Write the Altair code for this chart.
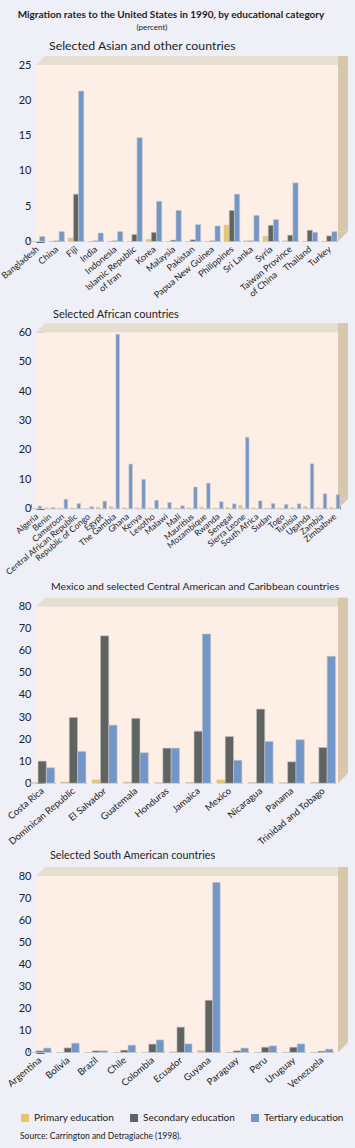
import altair as alt
import pandas as pd

levels = ["Primary education", "Secondary education", "Tertiary education"]
level_colors = ["#EBC56B", "#5F6462", "#7396C9"]

asia_countries = ["Bangladesh", "China", "Fiji", "India", "Indonesia", "Islamic Republic|of Iran",
                  "Korea", "Malaysia", "Pakistan", "Papua New Guinea", "Philippines", "Sri Lanka",
                  "Syria", "Taiwan Province|of China", "Thailand", "Turkey"]
asia_primary = [0, 0, 0.5, 0, 0, 0, 0.3, 0, 0, 0, 2.3, 0.1, 0.7, 0.1, 0, 0]
asia_secondary = [0, 0.1, 6.7, 0.1, 0.1, 1.0, 1.3, 0.2, 0.25, 0.1, 4.4, 0.1, 2.3, 0.9, 1.6, 0.8]
asia_tertiary = [0.7, 1.4, 21.3, 1.2, 1.4, 14.7, 5.7, 4.4, 2.4, 2.2, 6.7, 3.7, 3.1, 8.3, 1.3, 1.4]

africa_countries = ["Algeria", "Benin", "Cameroon", "Central African Republic", "Republic of Congo",
                    "Egypt", "The Gambia", "Ghana", "Kenya", "Lesotho", "Malawi", "Mali", "Mauritius",
                    "Mozambique", "Rwanda", "Senegal", "Sierra Leone", "South Africa", "Sudan", "Togo",
                    "Tunisia", "Uganda", "Zambia", "Zimbabwe"]
africa_primary = [0.2, 0.3, 0.2, 0.2, 0.1, 0.5, 0.8, 0.3, 0.3, 0.2, 0.2, 0.2, 0.3,
                  0.5, 0.2, 0.4, 1.2, 0.3, 0.2, 0.2, 0.4, 0.8, 0.3, 0.4]
africa_secondary = [0] * 24
africa_tertiary = [0.9, 0.4, 3.2, 1.8, 0.7, 2.6, 59.3, 15.2, 10.0, 2.9, 2.1, 1.0, 7.4,
                   8.7, 2.4, 1.7, 24.3, 2.7, 1.8, 1.5, 1.7, 15.3, 5.1, 4.8]

cam_countries = ["Costa Rica", "Dominican Republic", "El Salvador", "Guatemala", "Honduras",
                 "Jamaica", "Mexico", "Nicaragua", "Panama", "Trinidad and Tobago"]
cam_primary = [0.2, 0.5, 1.5, 0.5, 0.2, 0.3, 1.5, 0.3, 0.2, 0.4]
cam_secondary = [10.0, 29.8, 66.8, 29.4, 15.9, 23.6, 21.2, 33.6, 9.7, 16.2]
cam_tertiary = [7.0, 14.4, 26.3, 13.8, 15.9, 67.6, 10.4, 18.9, 19.7, 57.5]

sam_countries = ["Argentina", "Bolivia", "Brazil", "Chile", "Colombia", "Ecuador", "Guyana",
                 "Paraguay", "Peru", "Uruguay", "Venezuela"]
sam_primary = [0, 0, 0, 0, 0, 0.3, 0.9, 0, 0, 0, 0]
sam_secondary = [0.75, 2.1, 0.75, 1.05, 3.8, 11.5, 23.7, 0.75, 2.4, 2.4, 0.6]
sam_tertiary = [2.0, 4.2, 0.75, 3.3, 5.7, 3.9, 77.1, 2.0, 3.0, 3.9, 1.5]

main_title = ["Migration rates to the United States in 1990, by educational category"]
main_subtitle = ["(percent)"]
panel_titles = ["Selected Asian and other countries", "Selected African countries",
                "Mexico and selected Central American and Caribbean countries",
                "Selected South American countries"]
source_note = "Source: Carrington and Detragiache (1998)."

FONT = "Lato"
BG = "#EEEFF7"
PLOT_BG = "#FDEFE6"
TOP_FACE = "#E6DFD0"
SIDE_FACE = "#D7C7AB"
W = 302
PH = 176.5                       # height of each plot box
TOTAL_H = 987.5                  # from first plot top to last plot bottom
PANEL_TOPS = [0, 267.3, 541.7, 811]
PAD = {"left": 36, "top": 65, "right": 17, "bottom": 95.5}

# second line of two-line labels is pushed back with blank (non-trimmed) characters
BLANK = "\u2800\u2800\u2800\u2800"
LABEL_EXPR = ("indexof(datum.label, '|') > 0 ? [split(datum.label, '|')[0], "
              "split(datum.label, '|')[1] + '" + BLANK + "'] : datum.label")

one = pd.DataFrame({"k": [0]})


def long_df(countries, prim, sec, ter):
    rows = []
    for c, p, s, t in zip(countries, prim, sec, ter):
        rows.append({"country": c, "level": levels[0], "value": p})
        rows.append({"country": c, "level": levels[1], "value": s})
        rows.append({"country": c, "level": levels[2], "value": t})
    return pd.DataFrame(rows)


def text_layer(txt, x, y, size, align="left", weight="normal"):
    return alt.Chart(pd.DataFrame({"t": [txt]})).mark_text(
        font=FONT, fontSize=size, color="#1E1E1E", align=align, baseline="alphabetic",
        fontWeight=weight
    ).encode(text="t:N", x=alt.value(x), y=alt.value(y))


def box_layers(top_y):
    back = alt.Chart(one).mark_rect(color=PLOT_BG).encode(
        x=alt.value(0), x2=alt.value(W), y=alt.value(top_y), y2=alt.value(top_y + PH))
    top = alt.Chart(one).mark_rect(color=TOP_FACE).encode(
        x=alt.value(9), x2=alt.value(W + 10), y=alt.value(top_y - 9), y2=alt.value(top_y))
    top_corner = alt.Chart(one).mark_point(
        shape="M-1,1 L1,-1 L1,1 Z", size=81, filled=True, color=TOP_FACE, opacity=1,
        strokeWidth=0
    ).encode(x=alt.value(4.5), y=alt.value(top_y - 4.5))
    side = alt.Chart(one).mark_rect(color=SIDE_FACE).encode(
        x=alt.value(W), x2=alt.value(W + 10), y=alt.value(top_y - 9),
        y2=alt.value(top_y + PH - 10))
    side_corner = alt.Chart(one).mark_point(
        shape="M-1,-1 L1,-1 L-1,1 Z", size=100, filled=True, color=SIDE_FACE, opacity=1,
        strokeWidth=0
    ).encode(x=alt.value(W + 5), y=alt.value(top_y + PH - 5))
    return [back, top, top_corner, side, side_corner]


def bars_layer(countries, prim, sec, ter, ymax, step, top_y, x_range, label_size):
    df = long_df(countries, prim, sec, ter)
    bottom = top_y + PH
    return alt.Chart(df).mark_bar(stroke="#C4C4C4", strokeWidth=0.6).encode(
        x=alt.X("country:N", sort=countries,
                scale=alt.Scale(range=x_range, paddingInner=0.2, paddingOuter=0.1),
                axis=alt.Axis(orient="bottom", title=None, domain=False, tickBand="extent",
                              tickSize=5, offset=-(TOTAL_H - bottom) - 5, tickColor="#8A8A8A",
                              labelAngle=-40, labelAlign="right", labelBaseline="middle",
                              labelPadding=6, labelFontSize=label_size, labelFont=FONT,
                              labelColor="#222222", labelExpr=LABEL_EXPR, labelOverlap=False,
                              labelLineHeight=10)),
        xOffset=alt.XOffset("level:N", sort=levels),
        y=alt.Y("value:Q", scale=alt.Scale(domain=[0, ymax], nice=False, range=[bottom, top_y]),
                axis=alt.Axis(orient="left", title=None, values=list(range(0, ymax + 1, step)),
                              grid=False, domain=False, tickSize=8, offset=-8,
                              tickColor="#666666", labelPadding=5, labelFontSize=11,
                              labelFont=FONT, labelColor="#222222")),
        color=alt.Color("level:N", sort=levels,
                        scale=alt.Scale(domain=levels, range=level_colors),
                        title=source_note,
                        legend=alt.Legend(orient="none", legendX=-16, legendY=1048,
                                          direction="horizontal")),
    )


deco = []
for t in PANEL_TOPS:
    deco += box_layers(t)

deco.append(text_layer(main_title[0], 135, -47, 10, align="center", weight="bold"))
deco.append(text_layer(main_subtitle[0], 116, -35, 8, align="center"))
deco.append(text_layer(panel_titles[0], 13, PANEL_TOPS[0] - 15, 12.3))
deco.append(text_layer(panel_titles[1], 17, PANEL_TOPS[1] - 14.5, 11))
deco.append(text_layer(panel_titles[2], 15, PANEL_TOPS[2] - 17, 10.4))
deco.append(text_layer(panel_titles[3], 14, PANEL_TOPS[3] - 17, 10.8))

b1 = bars_layer(asia_countries, asia_primary, asia_secondary, asia_tertiary, 25, 5,
                PANEL_TOPS[0], [-8.7, 303], 9)
b2 = bars_layer(africa_countries, africa_primary, africa_secondary, africa_tertiary, 60, 10,
                PANEL_TOPS[1], [-6, 305], 8.5)
b3 = bars_layer(cam_countries, cam_primary, cam_secondary, cam_tertiary, 80, 10,
                PANEL_TOPS[2], [-9.4, 302.6], 9.5)
b4 = bars_layer(sam_countries, sam_primary, sam_secondary, sam_tertiary, 80, 10,
                PANEL_TOPS[3], [-10.4, 299.8], 9.5)

chart = alt.layer(*deco, b1, b2, b3, b4).resolve_scale(
    x="independent", y="independent", xOffset="independent"
).properties(
    width=W, height=TOTAL_H,
    autosize=alt.AutoSizeParams(type="none"),
    padding=PAD,
    background=BG,
).configure_view(
    stroke="transparent", fill="transparent"
).configure_legend(
    symbolType="square", symbolSize=64, symbolStrokeWidth=0, labelFontSize=10, labelFont=FONT,
    labelColor="#222222", titleOrient="bottom", titleAnchor="start", titleFontSize=8.5,
    titleFont=FONT, titleFontWeight="normal", titleColor="#222222", titlePadding=9,
    columnPadding=14, labelLimit=200, titleLimit=400,
)

chart.save("out.html", embed_options={"renderer": "svg", "actions": False})
